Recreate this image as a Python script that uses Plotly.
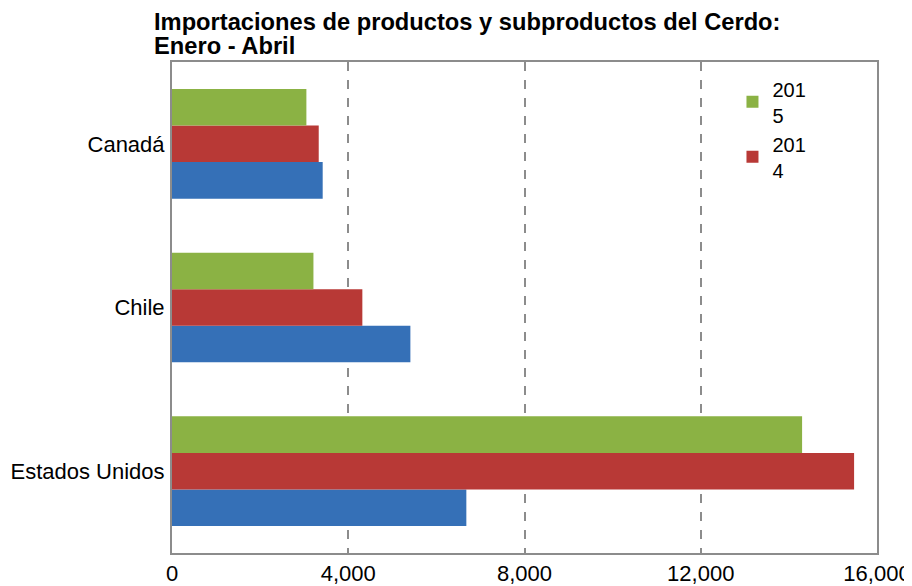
import plotly.graph_objects as go

# Data (bottom to top on the category axis)
paises = ["Estados Unidos", "Chile", "Canadá"]
valores_2013 = [6680, 5410, 3420]
valores_2014 = [15480, 4320, 3330]
valores_2015 = [14300, 3210, 3050]
tick_vals = [0, 4000, 8000, 12000, 16000]
tick_text = ["0", "4,000", "8,000", "12,000", "16,000"]
titulo_1 = "Importaciones de productos y subproductos del Cerdo:"
titulo_2 = "Enero - Abril"

fig = go.Figure()

# blue series is not in the (cropped) legend
fig.add_trace(go.Bar(
    y=paises, x=valores_2013, orientation="h", name="2013",
    marker=dict(color="#3570B7", line=dict(width=0)),
    showlegend=False,
))
fig.add_trace(go.Bar(
    y=paises, x=valores_2014, orientation="h", name="201<br>4",
    marker=dict(color="#B83936", line=dict(width=0)),
))
fig.add_trace(go.Bar(
    y=paises, x=valores_2015, orientation="h", name="201<br>5",
    marker=dict(color="#8BB244", line=dict(width=0)),
))

# page body has an 8px margin, so the figure is a bit smaller than the window
fig.update_layout(
    width=904, height=578,
    margin=dict(l=164, r=35, t=54, b=33),
    paper_bgcolor="white",
    plot_bgcolor="white",
    font=dict(family="Liberation Sans, Arial, sans-serif", size=22, color="black"),
    barmode="group",
    bargap=0.33,
    bargroupgap=0,
    legend=dict(
        x=0.795, y=0.985, xanchor="left", yanchor="top",
        traceorder="reversed",
        font=dict(size=20),
        bgcolor="rgba(0,0,0,0)",
        itemwidth=30,
    ),
    showlegend=True,
)

# two-line title, set tight like the original
for texto, dy in [(titulo_1, 40), (titulo_2, 16)]:
    fig.add_annotation(
        text="<b>" + texto + "</b>",
        xref="paper", yref="paper", x=0, y=1,
        xanchor="left", yanchor="middle",
        xshift=-20, yshift=dy,
        showarrow=False,
        font=dict(size=23.7, color="black"),
    )

fig.update_xaxes(
    range=[0, 16000],
    tickvals=tick_vals, ticktext=tick_text,
    showgrid=True, gridcolor="#8C8C8C", griddash="dash", gridwidth=1.5,
    showline=True, linecolor="#8C8C8C", linewidth=2, mirror=True,
    ticks="", ticklen=0,
    zeroline=False,
    automargin=False,
)
fig.update_yaxes(
    categoryorder="array", categoryarray=paises,
    showgrid=False,
    showline=True, linecolor="#8C8C8C", linewidth=2, mirror=True,
    ticks="", ticklen=0,
    ticklabelstandoff=1,
    automargin=False,
)

fig.write_html("out.html")
